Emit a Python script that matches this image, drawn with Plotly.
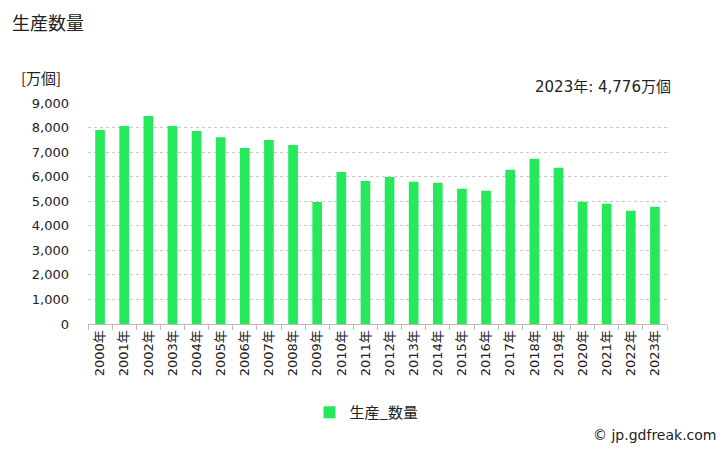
import plotly.graph_objects as go

years = [f"{y}年" for y in range(2000, 2024)]
values = [7900, 8060, 8470, 8060, 7860, 7610, 7170, 7490, 7290, 4970,
          6190, 5820, 5990, 5790, 5750, 5505, 5424, 6280, 6727, 6362,
          4975, 4894, 4608, 4776]
series_name = "生産_数量"
title_text = "生産数量"
unit_text = "[万個]"
latest_text = "2023年: 4,776万個"
credit_text = "© jp.gdfreak.com"
yticks = [0, 1000, 2000, 3000, 4000, 5000, 6000, 7000, 8000, 9000]

FONT = "Noto Sans CJK JP"
NUMFONT = "DejaVu Sans, Noto Sans CJK JP"
GREEN = "#25E85A"

fig = go.Figure()
fig.add_trace(go.Bar(x=years, y=values, name=series_name,
                     marker=dict(color=GREEN, line=dict(width=0)),
                     width=0.4))

fig.update_layout(
    width=728, height=450,
    margin=dict(l=88, r=61, t=103, b=126),
    paper_bgcolor="white", plot_bgcolor="white",
    font=dict(family=FONT, color="#222222", size=12),
    showlegend=True,
    legend=dict(orientation="h", x=0.5 - 11/579, xanchor="center", y=-0.40, yanchor="middle",
                font=dict(size=15, family=FONT), itemwidth=30),
    bargap=0.6,
)
fig.update_xaxes(
    type="category", tickangle=-90, tickfont=dict(size=13, family=NUMFONT),
    showline=True, linecolor="#bbbbbb", linewidth=1,
    ticks="outside", tickson="boundaries", ticklen=5, tickcolor="#bbbbbb",
    showgrid=False,
)
fig.update_yaxes(
    range=[0, 9000], tickvals=yticks, tickformat=",",
    tickfont=dict(size=13, family=NUMFONT),
    showgrid=True, gridcolor="#c8c8c8", griddash="dot", gridwidth=1,
    zeroline=False, showline=False, ticks="", ticklabelstandoff=18,
)

fig.add_annotation(text=title_text, xref="paper", yref="paper", x=-78/579, y=1 + 81/221,
                   xanchor="left", yanchor="middle", showarrow=False,
                   font=dict(size=18, family=FONT, color="#222222"))
fig.add_annotation(text=unit_text, xref="paper", yref="paper", x=-69/579, y=1 + 26/221,
                   xanchor="left", yanchor="middle", showarrow=False,
                   font=dict(size=15, family=FONT, color="#222222"))
fig.add_annotation(text=latest_text, xref="paper", yref="paper", x=1 + 6/579, y=1 + 16/221,
                   xanchor="right", yanchor="middle", showarrow=False,
                   font=dict(size=15, family=NUMFONT, color="#222222"))
fig.add_annotation(text=credit_text, xref="paper", yref="paper", x=1 + 51/579, y=-111/221,
                   xanchor="right", yanchor="middle", showarrow=False,
                   font=dict(size=14, family=NUMFONT, color="#222222"))

fig.write_html("out.html")
